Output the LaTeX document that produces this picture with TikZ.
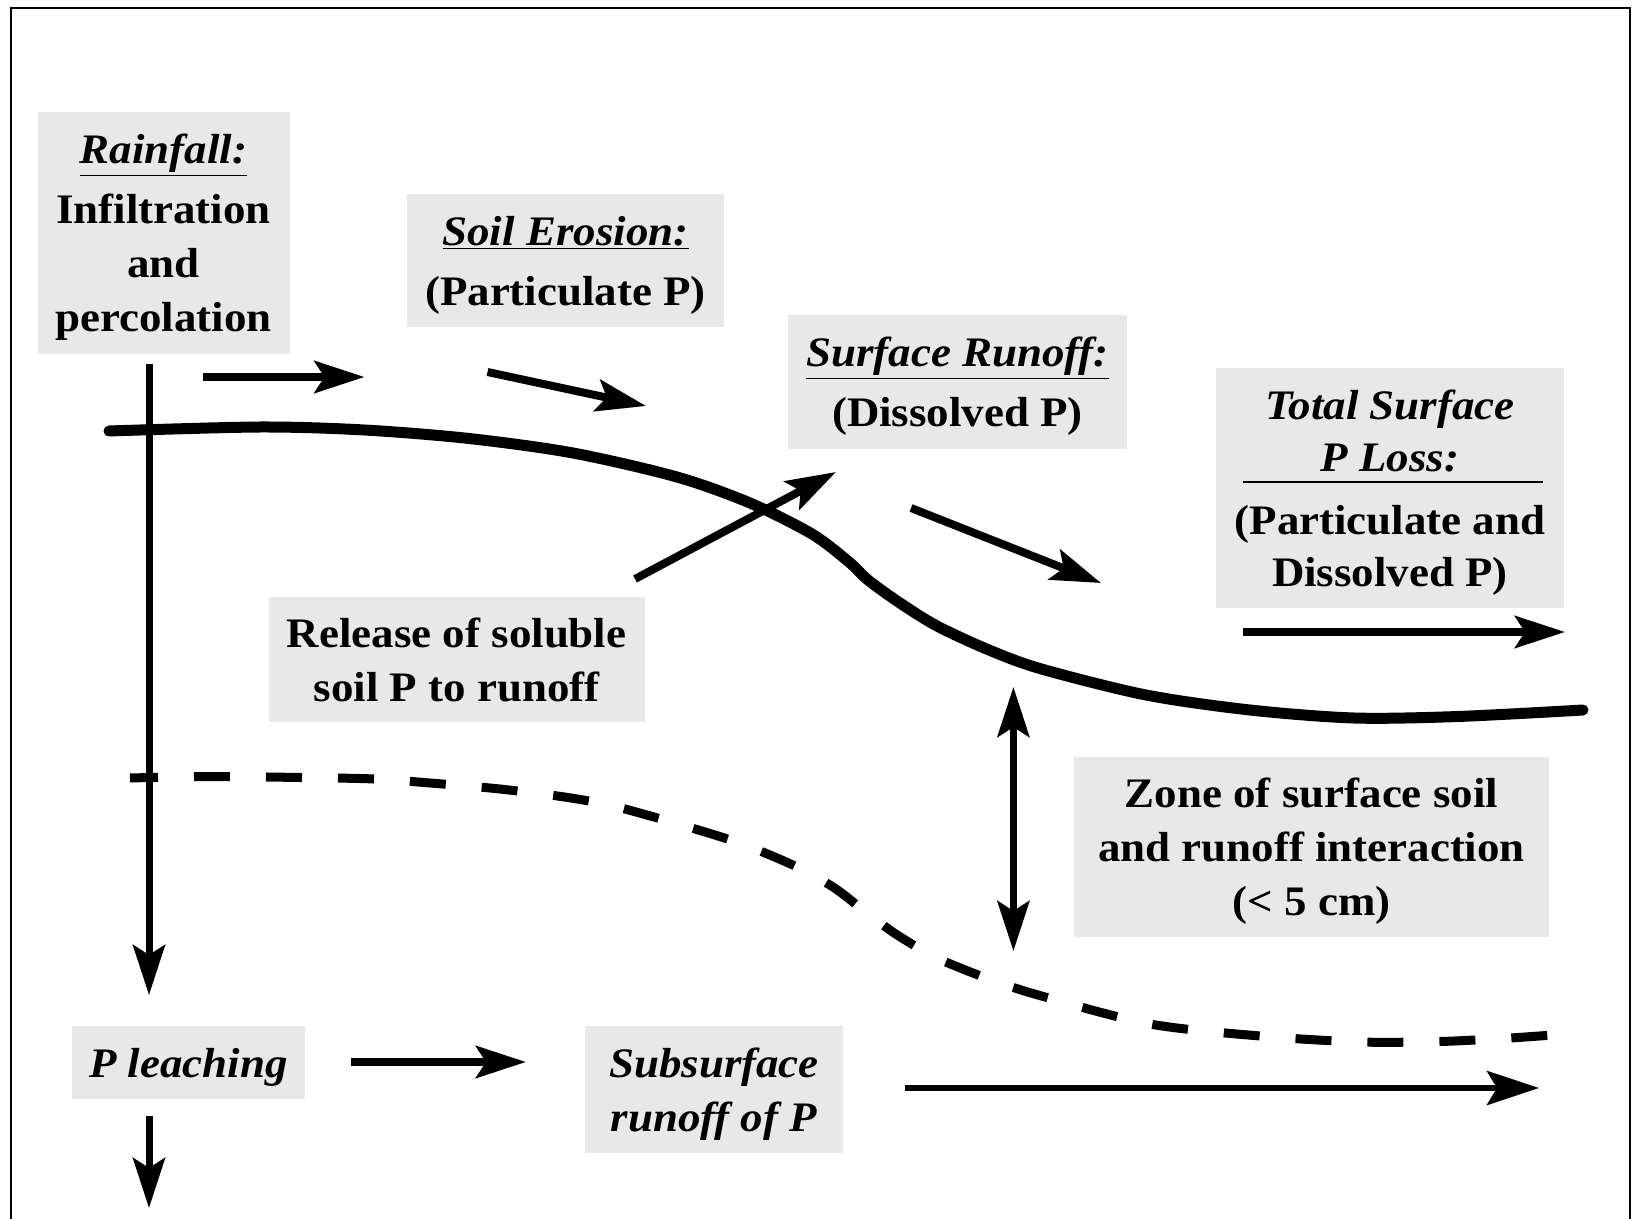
\documentclass[tikz,border=0pt]{standalone}
\usepackage{fontspec}
\setmainfont{Liberation Serif}[FakeStretch=1.07]
\usetikzlibrary{arrows.meta}
\definecolor{boxgray}{RGB}{232,232,232}
\newcommand{\nodp}[1]{\raisebox{0pt}[\height][0pt]{#1}}
\tikzset{
  box/.style={fill=boxgray, inner sep=0pt, align=center,
    font=\fontsize{21}{27}\selectfont\bfseries},
  flow/.style={line width=4pt, -{Stealth[length=25pt,width=16pt,inset=5pt]}},
  thinflow/.style={line width=3pt, -{Stealth[length=26pt,width=17pt,inset=5pt]}},
  surface/.style={line width=5.5pt, line cap=round},
  subsoil/.style={line width=4.5pt, dash pattern=on 18pt off 18pt, dash phase=4pt},
}
\begin{document}
\begin{tikzpicture}[x=0.5pt,y=-0.5pt]
\useasboundingbox (0,0) rectangle (1633,1219);
\fill[white] (0,0) rectangle (1633,1219);
\draw[line width=1.4pt] (11,1219) -- (11,8) -- (1630,8) -- (1630,1219);

% boxes
\node[box, minimum width=126pt, minimum height=120.75pt] (rain) at (163.5,233)
  {\underline{\textit{Rainfall:}}\\[3pt]Infiltration\\and\\\nodp{percolation}};
\node[box, minimum width=158.5pt, minimum height=66.5pt] (soil) at (565.5,260.5)
  {\underline{\textit{Soil Erosion:}}\\[3pt]\nodp{(Particulate P)}};
\node[box, minimum width=169.5pt, minimum height=66.75pt] (surf) at (957.5,382)
  {\underline{\textit{Surface Runoff:}}\\[3pt]\nodp{(Dissolved P)}};
\node[box, minimum width=173.75pt, minimum height=120.2pt,
      font=\fontsize{21}{26}\selectfont\bfseries] (total) at (1390,488)
  {\textit{Total Surface}\\\textit{P Loss:}\\[5.25pt](Particulate and\\\nodp{Dissolved P)}};
\node[box, minimum width=188pt, minimum height=62.5pt] (rel) at (456.7,659.5)
  {Release of soluble\\\nodp{soil P to runoff}};
\node[box, minimum width=237.5pt, minimum height=90pt] (zone) at (1311.5,847)
  {Zone of surface soil\\and runoff interaction\\\nodp{(< 5 cm)}};
\node[box, minimum width=116.5pt, minimum height=36.5pt] (leach) at (188.5,1062.5)
  {\nodp{\textit{P leaching}}};
\node[box, minimum width=128.8pt, minimum height=63.5pt] (subs) at (714,1089.5)
  {\textit{Subsurface}\\\nodp{\textit{runoff of P}}};

% rule inside total box
\coordinate (ruleA) at (1242.5,482);
\coordinate (ruleB) at (1542.5,482);
\draw[line width=1pt] (ruleA) -- (ruleB);

% soil surface (solid) and subsoil boundary (dashed)
\draw[surface] plot[smooth, tension=0.5] coordinates {
  (109,431) (260,427) (364.5,430) (469,438.5) (573,453) (677,477) (750,503)
  (812,534) (849,562) (868,580) (900,603) (937,626) (989,650) (1041.5,669)
  (1146,695) (1250,710) (1354,718) (1458,716.5) (1583,710)};
\draw[subsoil] plot[smooth, tension=0.5] coordinates {
  (130,778) (210,776.5) (300,777.5) (375,779) (430,783) (500,789) (571,798)
  (625,809) (729,839.5) (791.5,864.4) (833,887) (864.5,911) (895.7,934)
  (937,958) (989,979) (1041.5,996) (1150,1024) (1260,1036) (1360,1042)
  (1440,1041.5) (1510,1038) (1566,1034)};

% connector end points
\coordinate (rainS) at (149,364.5);
\coordinate (rainE) at (149,995);
\coordinate (a1s) at (203,377);    \coordinate (a1e) at (364.5,377);
\coordinate (a2s) at (487.5,372);  \coordinate (a2e) at (646,406);
\coordinate (a3s) at (635,579);    \coordinate (a3e) at (836,472);
\coordinate (a4s) at (911,508);    \coordinate (a4e) at (1101,583);
\coordinate (a5s) at (1242.5,632); \coordinate (a5e) at (1565,632);
\coordinate (z1) at (1013.4,687);  \coordinate (z2) at (1013.4,951);
\coordinate (a6s) at (351,1062);   \coordinate (a6e) at (526,1062);
\coordinate (a7s) at (149,1115.5); \coordinate (a7e) at (149,1208);
\coordinate (a8s) at (905,1088);   \coordinate (a8e) at (1539,1088);

\draw[flow, line width=3.5pt] (rainS) -- (rainE);
\draw[flow] (a1s) -- (a1e);
\draw[flow] (a2s) -- (a2e);
\draw[flow] (a3s) -- (a3e);
\draw[flow] (a4s) -- (a4e);
\draw[flow] (a5s) -- (a5e);
\draw[flow, line width=3.5pt, {Stealth[length=25pt,width=16pt,inset=5pt]}-{Stealth[length=25pt,width=16pt,inset=5pt]}] (z1) -- (z2);
\draw[flow] (a6s) -- (a6e);
\draw[flow, line width=3.5pt] (a7s) -- (a7e);
\draw[thinflow] (a8s) -- (a8e);
\end{tikzpicture}
\end{document}
